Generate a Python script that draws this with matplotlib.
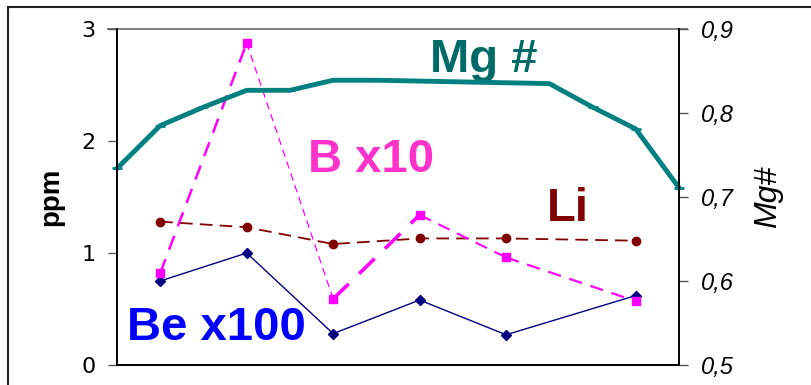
"""Be, B, Li (ppm) and Mg# profile, Excel-style twin-axis line chart."""

import matplotlib

matplotlib.use("Agg")
import matplotlib.pyplot as plt
from matplotlib.lines import Line2D

# sample positions (evenly spaced), trace elements measured at a subset
mg_x = [0, 1, 2, 3, 4, 5, 6, 7, 8, 9, 10, 11, 12, 13]
mg_num = [0.734, 0.785, 0.807, 0.827, 0.827, 0.839, 0.839, 0.838, 0.837, 0.836, 0.835, 0.807, 0.781, 0.711]

trace_x = [1, 3, 5, 7, 9, 12]
be_x100 = [0.75, 1.00, 0.28, 0.58, 0.27, 0.62]
b_x10 = [0.82, 2.875, 0.59, 1.34, 0.96, 0.57]
li = [1.28, 1.23, 1.08, 1.13, 1.13, 1.11]

left_ticks = [0, 1, 2, 3]
right_ticks = [0.5, 0.6, 0.7, 0.8, 0.9]
right_labels = ["0,5", "0,6", "0,7", "0,8", "0,9"]

TEAL = "#008080"
NAVY = "#000080"
MAGENTA = "#ff00ff"
DARKRED = "#800000"

fig = plt.figure(figsize=(8.12, 3.85), dpi=100)
ax = fig.add_axes([117 / 812, 20 / 385, 562 / 812, 336 / 385])
ax2 = ax.twinx()

# Li: dark red dashed with dots
ax.plot(trace_x, li, color=DARKRED, lw=1.3, ls=(0, (7, 4)), marker="o", ms=6, zorder=3)

# B x10: dashed magenta, segment widths differ in the original
b_widths = [1.8, 0.9, 2.6, 1.5, 1.6]
for i, w in enumerate(b_widths):
    ax.plot(trace_x[i:i + 2], b_x10[i:i + 2], color=MAGENTA, lw=w, ls=(0, (6, 4)), zorder=3)
ax.plot(trace_x, b_x10, ls="none", marker="s", ms=6, color=MAGENTA, zorder=4)

# Be x100: thin navy with diamonds
ax.plot(trace_x, be_x100, color=NAVY, lw=1.0, marker="D", ms=5.5, zorder=3)

# Mg# on right axis
ax2.plot(mg_x, mg_num, color=TEAL, lw=3.5, marker="_", ms=7, mew=2, solid_joinstyle="miter",
         clip_on=False, zorder=2)

ax.set_xlim(0, 13)
ax.set_ylim(0, 3)
ax2.set_ylim(0.5, 0.9)
ax.set_xticks([])

ax.set_yticks(left_ticks)
ax.tick_params(axis="y", direction="out", length=6.5, width=1.0, pad=9, labelsize=16, color="#555555")
for lab in ax.get_yticklabels():
    lab.set_family("DejaVu Sans")

ax2.set_yticks(right_ticks)
ax2.set_yticklabels(right_labels, fontstyle="italic", family="Liberation Sans", fontsize=17)
ax2.tick_params(axis="y", direction="out", length=6.5, width=1.0, pad=9, color="#555555")

for a in (ax, ax2):
    a.spines["top"].set_visible(False)
    a.spines["left"].set_linewidth(1.2)
    a.spines["right"].set_linewidth(1.2)
    a.spines["bottom"].set_linewidth(1.2)
ax.patch.set_visible(False)

# gray gridline at the top of the plot area, reaching over the ticks
ax.add_line(Line2D([-0.016, 1.014], [1, 1], transform=ax.transAxes, color="#808080",
                   lw=1.4, clip_on=False, zorder=1))

ax.set_ylabel("ppm", fontsize=20, fontweight="bold", family="Liberation Sans", labelpad=12)
ax2.set_ylabel("Mg#", fontsize=23, fontstyle="italic", family="Liberation Sans", labelpad=14)

# series labels
lbl = dict(family="Liberation Sans", fontweight="bold", fontsize=34)
ax.text(7.24, 2.62, "Mg #", color="#006b66", ha="left", va="baseline", **lbl)
ax.text(4.42, 1.72, "B x10", color="#ff33cc", ha="left", va="baseline", **lbl)
ax.text(9.95, 1.29, "Li", color=DARKRED, ha="left", va="baseline", **lbl)
ax.text(0.23, 0.22, "Be x100", color="#0000ff", ha="left", va="baseline", **lbl)

# outer chart frame, cut by the image edge on the right and bottom
fig.add_artist(Line2D([8 / 812, 1.0], [1 - 7 / 385, 1 - 7 / 385], transform=fig.transFigure,
                      color="#222222", lw=1.5))
fig.add_artist(Line2D([8 / 812, 8 / 812], [0, 1 - 7 / 385], transform=fig.transFigure,
                      color="#222222", lw=1.5))

fig.savefig("out.png", dpi=100)
